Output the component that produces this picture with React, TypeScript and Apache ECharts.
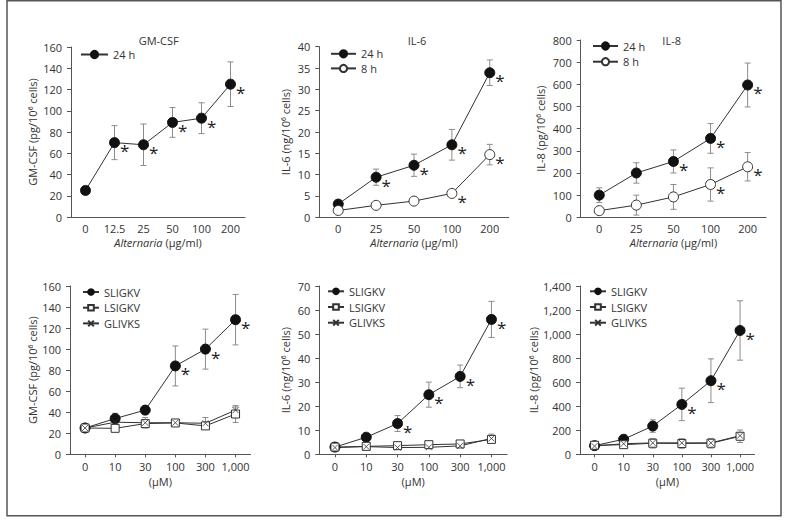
import React, { useEffect, useRef } from "react";
import * as echarts from "echarts";

// ---------- data ----------
const altTL = ["0", "12.5", "25", "50", "100", "200"];
const altTop = ["0", "25", "50", "100", "200"];
const pepDose = ["0", "10", "30", "100", "300", "1,000"];

// Top-left: GM-CSF vs Alternaria, 24 h
const gmAlt24 = [25, 70, 68, 89, 93, 125];
const gmAlt24Err = [2, 16, 19.5, 14, 14.5, 21];
const gmAlt24Sig = [0, 1, 1, 1, 1, 1];

// Top-middle: IL-6 vs Alternaria
const il6Alt24 = [3.1, 9.4, 12.2, 17.0, 33.9];
const il6Alt24Err = [0.6, 1.9, 2.6, 3.6, 3.0];
const il6Alt24Sig = [0, 1, 1, 1, 1];
const il6Alt8 = [1.6, 2.8, 3.8, 5.6, 14.7];
const il6Alt8Err = [0.3, 0.8, 0.9, 0.9, 2.4];
const il6Alt8Sig = [0, 0, 0, 1, 1];

// Top-right: IL-8 vs Alternaria
const il8Alt24 = [100, 200, 252, 356, 597];
const il8Alt24Err = [33, 46, 52, 67, 99];
const il8Alt24Sig = [0, 0, 1, 1, 1];
const il8Alt8 = [30, 55, 92, 148, 228];
const il8Alt8Err = [8, 45, 56, 75, 64];
const il8Alt8Sig = [0, 0, 0, 1, 1];

// Bottom-left: GM-CSF vs peptides
const gmSLIGKV = [25, 34, 42, 84, 100, 128];
const gmSLIGKVErr = [1, 5, 4, 19, 19, 24];
const gmSLIGKVSig = [0, 0, 0, 1, 1, 1];
const gmLSIGKV = [25, 24.7, 29.2, 29.8, 27, 38.3];
const gmLSIGKVErr = [1, 2.5, 3, 2, 2.5, 8];
const gmGLIVKS = [25, 30.5, 30, 30, 29.5, 42];
const gmGLIVKSErr = [1, 2, 5, 1.5, 5.5, 3];

// Bottom-middle: IL-6 vs peptides
const il6SLIGKV = [3, 7.1, 12.8, 24.8, 32.4, 56.1];
const il6SLIGKVErr = [0.5, 1.6, 3.3, 5.2, 4.7, 7.5];
const il6SLIGKVSig = [0, 0, 1, 1, 1, 1];
const il6LSIGKV = [3, 3.3, 3.6, 4.0, 4.3, 6.2];
const il6LSIGKVErr = [0.5, 0.8, 0.6, 0.6, 0.7, 1.3];
const il6GLIVKS = [2.8, 3.2, 2.8, 2.9, 3.5, 6.6];
const il6GLIVKSErr = [0.5, 0.5, 0.5, 0.4, 0.5, 1.8];

// Bottom-right: IL-8 vs peptides
const il8SLIGKV = [72, 125, 235, 415, 612, 1030];
const il8SLIGKVErr = [15, 35, 52, 135, 182, 247];
const il8SLIGKVSig = [0, 0, 0, 1, 1, 1];
const il8LSIGKV = [75, 80, 92, 90, 92, 150];
const il8LSIGKVErr = [20, 30, 40, 40, 40, 52];
const il8GLIVKS = [68, 88, 95, 95, 95, 155];
const il8GLIVKSErr = [10, 15, 20, 20, 20, 20];

// ---------- styling ----------
const FONT = "'Open Sans', 'Noto Sans', sans-serif";
const TXT = "#333";
const AX = "#555";
const ERR = "#8c8c8c";
const LINE = "#333";

type Style = "filled" | "open" | "square" | "cross";

function symbolOf(s: Style) {
  if (s === "filled")
    return { symbol: "circle", symbolSize: 10, itemStyle: { color: "#111", borderColor: "#111", borderWidth: 1 } };
  if (s === "open")
    return { symbol: "circle", symbolSize: 10, itemStyle: { color: "#fff", borderColor: "#333", borderWidth: 1 } };
  if (s === "square")
    return { symbol: "rect", symbolSize: 8, itemStyle: { color: "#fff", borderColor: "#333", borderWidth: 1 } };
  return {
    symbol: "path://M0,0L8,8M8,0L0,8",
    symbolSize: 6,
    itemStyle: { color: "none", borderColor: "#333", borderWidth: 0.8 },
  };
}

interface Grp {
  name: string;
  vals: number[];
  err: number[];
  sig?: number[];
  style: Style;
}

interface Panel {
  grid: any;
  cats: string[];
  ymax: number;
  yint: number;
  yname: string;
  ynameGap: number;
  xname: string;
  xnameGap: number;
  xlabelMargin: number;
  xticks: boolean;
  commas?: boolean;
  groups: Grp[];
  legend: any;
  legendItemWidth: number;
  legendItemHeight: number;
  legendGap: number;
}

const panels: Panel[] = [
  {
    grid: { left: 71, top: 47, width: 174, height: 170 },
    cats: altTL, ymax: 160, yint: 20,
    yname: "GM-CSF (pg/10⁶ cells)", ynameGap: 33,
    xname: "{i|Alternaria} (µg/ml)", xnameGap: 20, xlabelMargin: 6, xticks: false,
    groups: [{ name: "24 h", vals: gmAlt24, err: gmAlt24Err, sig: gmAlt24Sig, style: "filled" }],
    legend: { left: 80, top: 49 }, legendItemWidth: 27, legendItemHeight: 9, legendGap: 2,
  },
  {
    grid: { left: 319.3, top: 46.7, width: 189.4, height: 170.6 },
    cats: altTop, ymax: 40, yint: 5,
    yname: "IL-6 (ng/10⁶ cells)", ynameGap: 28.6,
    xname: "{i|Alternaria} (µg/ml)", xnameGap: 20, xlabelMargin: 6, xticks: false,
    groups: [
      { name: "24 h", vals: il6Alt24, err: il6Alt24Err, sig: il6Alt24Sig, style: "filled" },
      { name: "8 h", vals: il6Alt8, err: il6Alt8Err, sig: il6Alt8Sig, style: "open" },
    ],
    legend: { left: 330, top: 48.3 }, legendItemWidth: 25, legendItemHeight: 9, legendGap: 3.6,
  },
  {
    grid: { left: 580.7, top: 40, width: 185.5, height: 177.3 },
    cats: altTop, ymax: 800, yint: 100,
    yname: "IL-8 (pg/10⁶ cells)", ynameGap: 35,
    xname: "{i|Alternaria} (µg/ml)", xnameGap: 20, xlabelMargin: 6, xticks: false,
    groups: [
      { name: "24 h", vals: il8Alt24, err: il8Alt24Err, sig: il8Alt24Sig, style: "filled" },
      { name: "8 h", vals: il8Alt8, err: il8Alt8Err, sig: il8Alt8Sig, style: "open" },
    ],
    legend: { left: 592, top: 40.5 }, legendItemWidth: 25, legendItemHeight: 9, legendGap: 4.7,
  },
  {
    grid: { left: 70, top: 286, width: 180.6, height: 168.3 },
    cats: pepDose, ymax: 160, yint: 20,
    yname: "GM-CSF (pg/10⁶ cells)", ynameGap: 32.3,
    xname: "(µM)", xnameGap: 22, xlabelMargin: 7, xticks: true,
    groups: [
      { name: "SLIGKV", vals: gmSLIGKV, err: gmSLIGKVErr, sig: gmSLIGKVSig, style: "filled" },
      { name: "LSIGKV", vals: gmLSIGKV, err: gmLSIGKVErr, style: "square" },
      { name: "GLIVKS", vals: gmGLIVKS, err: gmGLIVKSErr, style: "cross" },
    ],
    legend: { left: 82, top: 286.5 }, legendItemWidth: 16, legendItemHeight: 7, legendGap: 4.7,
  },
  {
    grid: { left: 319.3, top: 286, width: 187.8, height: 168.3 },
    cats: pepDose, ymax: 70, yint: 10,
    yname: "IL-6 (ng/10⁶ cells)", ynameGap: 28,
    xname: "(µM)", xnameGap: 22, xlabelMargin: 7, xticks: true,
    groups: [
      { name: "SLIGKV", vals: il6SLIGKV, err: il6SLIGKVErr, sig: il6SLIGKVSig, style: "filled" },
      { name: "LSIGKV", vals: il6LSIGKV, err: il6LSIGKVErr, style: "square" },
      { name: "GLIVKS", vals: il6GLIVKS, err: il6GLIVKSErr, style: "cross" },
    ],
    legend: { left: 327, top: 285.8 }, legendItemWidth: 16, legendItemHeight: 7, legendGap: 4.7,
  },
  {
    grid: { left: 580, top: 286, width: 174.6, height: 168.3 },
    cats: pepDose, ymax: 1400, yint: 200, commas: true,
    yname: "IL-8 (pg/10⁶ cells)", ynameGap: 38.3,
    xname: "(µM)", xnameGap: 22, xlabelMargin: 7, xticks: true,
    groups: [
      { name: "SLIGKV", vals: il8SLIGKV, err: il8SLIGKVErr, sig: il8SLIGKVSig, style: "filled" },
      { name: "LSIGKV", vals: il8LSIGKV, err: il8LSIGKVErr, style: "square" },
      { name: "GLIVKS", vals: il8GLIVKS, err: il8GLIVKSErr, style: "cross" },
    ],
    legend: { left: 589, top: 285.8 }, legendItemWidth: 16, legendItemHeight: 7, legendGap: 4.7,
  },
];

const titles = [
  { text: "GM-CSF", x: 158.7, y: 40 },
  { text: "IL-6", x: 417, y: 40 },
  { text: "IL-8", x: 671.7, y: 40.7 },
];

function errorRender(params: any, api: any) {
  const x = api.value(0);
  const lo = api.coord([x, api.value(1)]);
  const hi = api.coord([x, api.value(2)]);
  const cap = 3;
  const st = { stroke: ERR, lineWidth: 1 };
  return {
    type: "group",
    children: [
      { type: "line", shape: { x1: lo[0], y1: lo[1], x2: hi[0], y2: hi[1] }, style: st },
      { type: "line", shape: { x1: lo[0] - cap, y1: lo[1], x2: lo[0] + cap, y2: lo[1] }, style: st },
      { type: "line", shape: { x1: hi[0] - cap, y1: hi[1], x2: hi[0] + cap, y2: hi[1] }, style: st },
    ],
  };
}

function buildOption() {
  const grid: any[] = [];
  const xAxis: any[] = [];
  const yAxis: any[] = [];
  const series: any[] = [];
  const legend: any[] = [];

  panels.forEach((p, pi) => {
    grid.push({ ...p.grid, containLabel: false });
    xAxis.push({
      type: "category",
      gridIndex: pi,
      data: p.cats,
      boundaryGap: true,
      axisLine: { show: true, lineStyle: { color: AX, width: 1 } },
      axisTick: { show: p.xticks, alignWithLabel: true, length: 3, lineStyle: { color: AX } },
      axisLabel: { color: TXT, fontSize: 11, fontFamily: FONT, margin: p.xlabelMargin, interval: 0 },
      splitLine: { show: false },
      name: p.xname,
      nameLocation: "middle",
      nameGap: p.xnameGap,
      nameTextStyle: {
        color: TXT, fontSize: 11, fontFamily: FONT,
        rich: { i: { fontStyle: "italic", color: TXT, fontSize: 11, fontFamily: FONT } },
      },
    });
    yAxis.push({
      type: "value",
      gridIndex: pi,
      min: 0,
      max: p.ymax,
      interval: p.yint,
      axisLine: { show: true, lineStyle: { color: AX, width: 1 } },
      axisTick: { show: true, length: 4, lineStyle: { color: AX } },
      axisLabel: {
        color: TXT, fontSize: 11, fontFamily: FONT, margin: 9,
        formatter: (v: number) => (p.commas ? v.toLocaleString("en-US") : String(v)),
      },
      splitLine: { show: false },
      name: p.yname,
      nameLocation: "middle",
      nameGap: p.ynameGap,
      nameTextStyle: { color: TXT, fontSize: 11, fontFamily: FONT },
    });

    p.groups.forEach((g) => {
      series.push({
        type: "custom",
        xAxisIndex: pi,
        yAxisIndex: pi,
        silent: true,
        z: 1,
        renderItem: errorRender,
        encode: { x: 0, y: [1, 2] },
        data: g.vals.map((v, i) => [i, v - g.err[i], v + g.err[i]]),
      });
    });
    p.groups.forEach((g) => {
      const sym = symbolOf(g.style);
      series.push({
        type: "line",
        name: g.name,
        xAxisIndex: pi,
        yAxisIndex: pi,
        silent: true,
        z: 3,
        ...sym,
        lineStyle: { color: LINE, width: 1 },
        label: {
          show: false, formatter: "*", position: "right", distance: 0, offset: [0, 8],
          fontSize: 17, color: "#222", fontFamily: FONT,
        },
        emphasis: { disabled: true },
        data: g.vals.map((v, i) => ({ value: v, label: g.sig && g.sig[i] ? { show: true } : undefined })),
      });
    });

    legend.push({
      ...p.legend,
      orient: "vertical",
      data: p.groups.map((g) => g.name),
      itemWidth: p.legendItemWidth,
      itemHeight: p.legendItemHeight,
      itemGap: p.legendGap,
      selectedMode: false,
      padding: 0,
      textStyle: { color: TXT, fontSize: 11, fontFamily: FONT, lineHeight: 11 },
    });
  });

  const graphic: any[] = [
    {
      type: "rect",
      shape: { x: 7, y: 0.75, width: 774, height: 515 },
      style: { fill: "none", stroke: "#555", lineWidth: 1.5 },
      silent: true,
    },
    ...titles.map((t) => ({
      type: "text",
      x: t.x,
      y: t.y,
      style: {
        text: t.text, fill: TXT, fontSize: 11, fontFamily: FONT,
        textAlign: "center", textVerticalAlign: "middle",
      },
      silent: true,
    })),
  ];

  return {
    animation: false,
    backgroundColor: "#fff",
    textStyle: { fontFamily: FONT },
    grid,
    xAxis,
    yAxis,
    legend,
    series,
    graphic,
  };
}

export default function App() {
  const ref = useRef<HTMLDivElement>(null);
  useEffect(() => {
    document.body.style.margin = "0";
    if (!ref.current) return;
    const chart = echarts.init(ref.current, undefined, { renderer: "svg" });
    chart.setOption(buildOption() as any);
    return () => chart.dispose();
  }, []);
  return <div ref={ref} style={{ width: 787, height: 524 }} />;
}
